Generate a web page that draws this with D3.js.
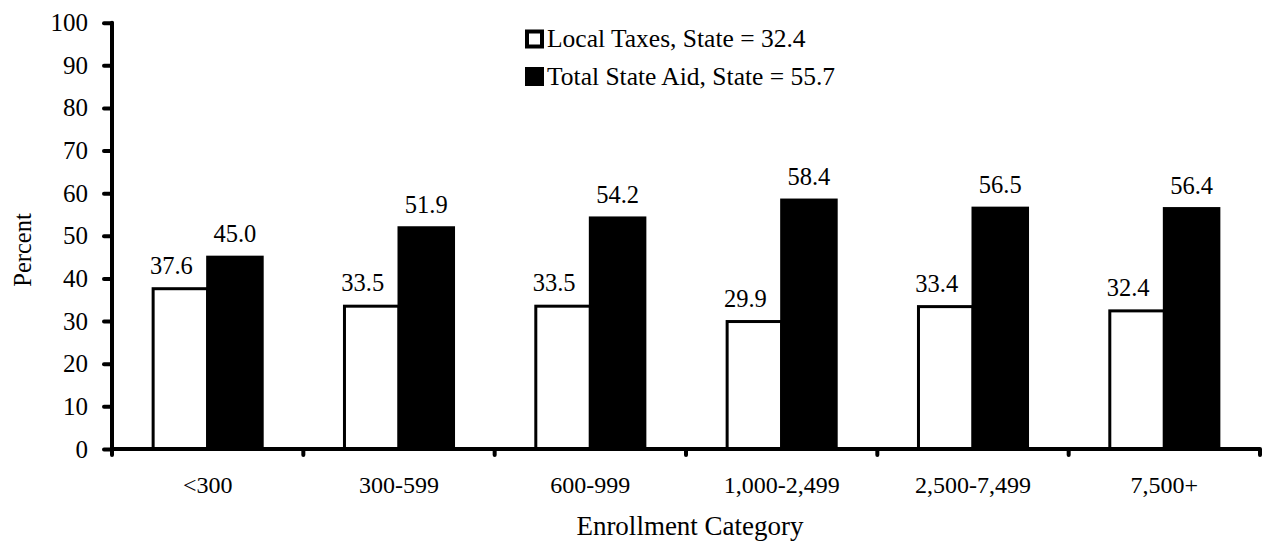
<!DOCTYPE html>
<html><head><meta charset="utf-8">
<script src="https://cdn.jsdelivr.net/npm/d3@7"></script>
<style>
html,body{margin:0;padding:0;background:#fff;}
</style></head>
<body>
<svg id="chart" width="1262" height="542" font-family="Liberation Serif"></svg>
<script>
const categories = ["<300","300-599","600-999","1,000-2,499","2,500-7,499","7,500+"];
const localTaxes = [37.6,33.5,33.5,29.9,33.4,32.4];
const stateAid = [45.0,51.9,54.2,58.4,56.5,56.4];
const seriesNames = ["Local Taxes, State = 32.4","Total State Aid, State = 55.7"];
const yTicks = [0,10,20,30,40,50,60,70,80,90,100];

const FONT = "Liberation Serif";
const svg = d3.select("#chart");
const mLeft = 112, mRight = 1260, mTop = 22.7, mBottom = 449;

const x0 = d3.scaleBand().domain(categories).range([mLeft, mRight]).paddingInner(0.43).paddingOuter(0.215);
const x1 = d3.scaleBand().domain([0,1]).range([0, x0.bandwidth()]);
const y = d3.scaleLinear().domain([0,100]).range([mBottom, mTop]);

const data = categories.map((c,i)=>({c, vals:[localTaxes[i], stateAid[i]]}));

const g = svg.append("g");
data.forEach(d=>{
  d.vals.forEach((v,k)=>{
    g.append("rect")
      .attr("x", x0(d.c)+x1(k))
      .attr("y", y(v))
      .attr("width", x1.bandwidth())
      .attr("height", y(0)-y(v))
      .attr("fill", k===0 ? "#fff" : "#000")
      .attr("stroke", "#000")
      .attr("stroke-width", 3);
  });
});
data.forEach(d=>{
  d.vals.forEach((v,k)=>{
    g.append("text")
      .attr("x", x0(d.c)+x1(k)+x1.bandwidth()/2 + (k===0 ? -9 : 0))
      .attr("y", y(v) - 15)
      .attr("text-anchor","middle")
      .attr("font-family", FONT)
      .attr("font-size", 24.5)
      .attr("fill","#000")
      .text(v.toFixed(1));
  });
});

const yAxis = d3.axisLeft(y).tickValues(yTicks).tickSize(8).tickPadding(16).tickFormat(d3.format("d"));
const ya = svg.append("g").attr("transform",`translate(${mLeft},0)`).call(yAxis);
ya.attr("font-family", FONT).attr("font-size", 25);
ya.select(".domain").remove();
ya.append("line").attr("x1",0).attr("x2",0).attr("y1",y(100)).attr("y2",y(0)+2)
  .attr("stroke","#000").attr("stroke-width",4).attr("stroke-linecap","round");
ya.selectAll(".tick line").attr("stroke","#000").attr("stroke-width",4).attr("stroke-linecap","round");
ya.selectAll(".tick text").attr("font-family", FONT).attr("font-size",25).attr("fill","#000");

const xa = svg.append("g").attr("transform",`translate(0,${mBottom})`);
xa.append("line").attr("x1",mLeft).attr("x2",mRight).attr("y1",0).attr("y2",0)
  .attr("stroke","#000").attr("stroke-width",4);
const boundaries = categories.map(c=>x0(c) - (x0.step()-x0.bandwidth())/2).concat([mRight]);
xa.selectAll(".xt").data(boundaries).join("line")
  .attr("x1",d=>d).attr("x2",d=>d).attr("y1",0).attr("y2",6)
  .attr("stroke","#000").attr("stroke-width",4).attr("stroke-linecap","round");
xa.selectAll(".xl").data(categories).join("text")
  .attr("x",d=>x0(d)+x0.bandwidth()/2).attr("y",44)
  .attr("text-anchor","middle").attr("font-family", FONT).attr("font-size",24).attr("fill","#000")
  .text(d=>d);

svg.append("text").attr("x",(mLeft+mRight)/2+4).attr("y",535).attr("text-anchor","middle")
  .attr("font-family", FONT).attr("font-size",27).attr("fill","#000").text("Enrollment Category");
svg.append("text").attr("transform","translate(31,250) rotate(-90)").attr("text-anchor","middle")
  .attr("font-family", FONT).attr("font-size",24.5).attr("fill","#000").text("Percent");

const lg = svg.append("g");
seriesNames.forEach((s,k)=>{
  const cy = 39 + k*37.5;
  lg.append("rect").attr("x",527).attr("y",cy-7.5).attr("width",15).attr("height",15)
    .attr("fill", k===0?"#fff":"#000").attr("stroke","#000").attr("stroke-width",4);
  lg.append("text").attr("x",547).attr("y",cy+8).attr("font-family", FONT).attr("font-size",25.5).attr("fill","#000").text(s);
});
</script>
</body></html>
